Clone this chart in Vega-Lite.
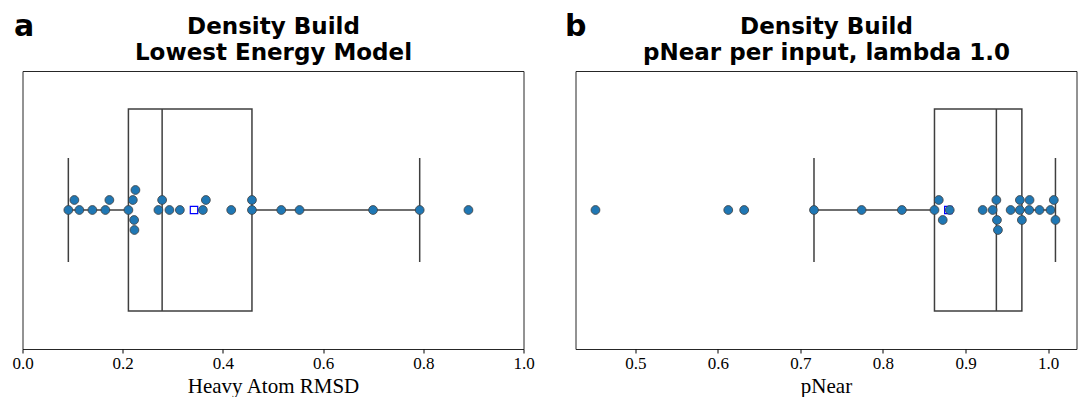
{
  "$schema": "https://vega.github.io/schema/vega-lite/v6.json",
  "background": "white",
  "padding": {"left": 10.5, "top": 11, "right": 0, "bottom": 0},
  "spacing": 28,
  "config": {
    "view": {"stroke": "#262626", "strokeWidth": 1},
    "axisX": {"domain": false, "grid": false, "tickColor": "#000", "tickSize": 4, "tickWidth": 1, "labelFont": "Liberation Serif", "labelFontSize": 17, "labelColor": "#000", "labelPadding": 2, "labelOverlap": false, "labelFlush": false, "titleFont": "Liberation Serif", "titleFontSize": 21, "titleFontWeight": "normal", "titleColor": "#000", "titlePadding": 4}
  },
  "datasets": {
    "rmsd": [
      {"rmsd": 0.0915}, {"rmsd": 0.1035}, {"rmsd": 0.1135}, {"rmsd": 0.1395}, {"rmsd": 0.1654},
      {"rmsd": 0.1734}, {"rmsd": 0.2114}, {"rmsd": 0.2202}, {"rmsd": 0.2228}, {"rmsd": 0.2234},
      {"rmsd": 0.2254}, {"rmsd": 0.2713}, {"rmsd": 0.2787}, {"rmsd": 0.2933}, {"rmsd": 0.3141},
      {"rmsd": 0.3600}, {"rmsd": 0.3660}, {"rmsd": 0.4166}, {"rmsd": 0.4580}, {"rmsd": 0.4580},
      {"rmsd": 0.5165}, {"rmsd": 0.5530}, {"rmsd": 0.6997}, {"rmsd": 0.7928}, {"rmsd": 0.8901}
    ],
    "pnear": [
      {"pnear": 0.4516}, {"pnear": 0.6125}, {"pnear": 0.6318}, {"pnear": 0.7164}, {"pnear": 0.7741},
      {"pnear": 0.8229}, {"pnear": 0.8624}, {"pnear": 0.8676}, {"pnear": 0.8724}, {"pnear": 0.8809},
      {"pnear": 0.9208}, {"pnear": 0.9329}, {"pnear": 0.9374}, {"pnear": 0.9381}, {"pnear": 0.9393},
      {"pnear": 0.9547}, {"pnear": 0.9659}, {"pnear": 0.9659}, {"pnear": 0.9683}, {"pnear": 0.9772},
      {"pnear": 0.9776}, {"pnear": 0.9897}, {"pnear": 1.003}, {"pnear": 1.007}, {"pnear": 1.009}
    ]
  },
  "hconcat": [
    {
      "width": 501,
      "height": 278,
      "data": {"name": "rmsd"},
      "resolve": {"axis": {"x": "independent"}},
      "layer": [
        {
          "mark": {"type": "boxplot", "extent": 1.5, "size": 202, "orient": "horizontal", "outliers": false,
            "ticks": {"size": 104, "color": "#3f3f3f", "thickness": 1.5, "opacity": 1},
            "box": {"fill": "white", "stroke": "#3f3f3f", "strokeWidth": 1.5},
            "median": {"color": "#3f3f3f", "thickness": 1.5, "opacity": 1},
            "rule": {"color": "#3f3f3f", "strokeWidth": 1.5, "opacity": 1}},
          "encoding": {"x": {"field": "rmsd", "type": "quantitative", "title": "Heavy Atom RMSD",
            "scale": {"domain": [0, 1], "nice": false, "zero": false},
            "axis": {"orient": "bottom", "values": [0, 0.2, 0.4, 0.6, 0.8, 1.0], "format": ".1f"}}}
        },
        {
          "mark": {"type": "square", "size": 55, "fill": "white", "stroke": "#0000ff", "strokeWidth": 1.2, "opacity": 1},
          "encoding": {"x": {"aggregate": "mean", "field": "rmsd", "type": "quantitative",
            "axis": {"orient": "top", "title": ["Density Build", "Lowest Energy Model"], "labels": false, "ticks": false, "domain": false, "grid": false,
              "titleFont": "DejaVu Sans", "titleFontSize": 23, "titleFontWeight": "bold", "titleLineHeight": 26, "titlePadding": 7, "titleColor": "#000"}}}
        },
        {
          "transform": [
            {"bin": {"step": 0.024, "extent": [0.016, 1.0], "nice": false, "anchor": 0.016}, "field": "rmsd", "as": "grp"},
            {"window": [{"op": "row_number", "as": "lane"}], "groupby": ["grp"], "sort": [{"field": "rmsd", "order": "ascending"}]}
          ],
          "mark": {"type": "circle", "size": 78, "fill": "#1f77b4", "stroke": "#3d3d3d", "strokeWidth": 0.8, "opacity": 1},
          "encoding": {
            "x": {"field": "rmsd", "type": "quantitative", "axis": null},
            "y": {"field": "lane", "type": "ordinal", "scale": {"type": "point", "domain": [5, 2, 1, 3, 4], "range": [119, 159], "padding": 0},
              "axis": {"title": "a", "orient": "left", "labels": false, "ticks": false, "domain": false, "grid": false, "titleAngle": 0, "titleX": -9, "titleY": -35.5, "titleAlign": "left", "titleBaseline": "alphabetic", "titleFont": "DejaVu Sans", "titleFontSize": 30, "titleFontWeight": "bold", "titleColor": "#000"}}
          }
        }
      ]
    },
    {
      "width": 501,
      "height": 278,
      "data": {"name": "pnear"},
      "resolve": {"axis": {"x": "independent"}},
      "layer": [
        {
          "mark": {"type": "boxplot", "extent": 1.5, "size": 202, "orient": "horizontal", "outliers": false,
            "ticks": {"size": 104, "color": "#3f3f3f", "thickness": 1.5, "opacity": 1},
            "box": {"fill": "white", "stroke": "#3f3f3f", "strokeWidth": 1.5},
            "median": {"color": "#3f3f3f", "thickness": 1.5, "opacity": 1},
            "rule": {"color": "#3f3f3f", "strokeWidth": 1.5, "opacity": 1}},
          "encoding": {"x": {"field": "pnear", "type": "quantitative", "title": "pNear",
            "scale": {"domain": [0.4274, 1.0345], "nice": false, "zero": false},
            "axis": {"orient": "bottom", "values": [0.5, 0.6, 0.7, 0.8, 0.9, 1.0], "format": ".1f"}}}
        },
        {
          "mark": {"type": "square", "size": 55, "fill": "white", "stroke": "#0000ff", "strokeWidth": 1.2, "opacity": 1},
          "encoding": {"x": {"aggregate": "mean", "field": "pnear", "type": "quantitative",
            "axis": {"orient": "top", "title": ["Density Build", "pNear per input, lambda 1.0"], "labels": false, "ticks": false, "domain": false, "grid": false,
              "titleFont": "DejaVu Sans", "titleFontSize": 23, "titleFontWeight": "bold", "titleLineHeight": 26, "titlePadding": 7, "titleColor": "#000"}}}
        },
        {
          "transform": [
            {"filter": {"field": "pnear", "lt": 0.9}},
            {"bin": {"step": 0.015, "extent": [0.441, 0.9], "nice": false, "anchor": 0.441}, "field": "pnear", "as": "grp"},
            {"window": [{"op": "row_number", "as": "lane"}], "groupby": ["grp"], "sort": [{"field": "pnear", "order": "ascending"}]}
          ],
          "mark": {"type": "circle", "size": 78, "fill": "#1f77b4", "stroke": "#3d3d3d", "strokeWidth": 0.8, "opacity": 1},
          "encoding": {
            "x": {"field": "pnear", "type": "quantitative", "axis": null},
            "y": {"field": "lane", "type": "ordinal", "scale": {"type": "point", "domain": [5, 2, 1, 3, 4], "range": [119, 159], "padding": 0},
              "axis": {"title": "b", "orient": "left", "labels": false, "ticks": false, "domain": false, "grid": false, "titleAngle": 0, "titleX": -11, "titleY": -35.5, "titleAlign": "left", "titleBaseline": "alphabetic", "titleFont": "DejaVu Sans", "titleFontSize": 30, "titleFontWeight": "bold", "titleColor": "#000"}}
          }
        },
        {
          "transform": [
            {"filter": {"field": "pnear", "gte": 0.9}},
            {"bin": {"step": 0.013, "extent": [0.906, 1.023], "nice": false, "anchor": 0.906}, "field": "pnear", "as": "grp"},
            {"window": [{"op": "row_number", "as": "lane"}], "groupby": ["grp"], "sort": [{"field": "pnear", "order": "ascending"}]}
          ],
          "mark": {"type": "circle", "size": 78, "fill": "#1f77b4", "stroke": "#3d3d3d", "strokeWidth": 0.8, "opacity": 1},
          "encoding": {
            "x": {"field": "pnear", "type": "quantitative", "axis": null},
            "y": {"field": "lane", "type": "ordinal", "scale": {"type": "point", "domain": [5, 2, 1, 3, 4], "range": [119, 159], "padding": 0},
              "axis": {"title": "b", "orient": "left", "labels": false, "ticks": false, "domain": false, "grid": false, "titleAngle": 0, "titleX": -11, "titleY": -35.5, "titleAlign": "left", "titleBaseline": "alphabetic", "titleFont": "DejaVu Sans", "titleFontSize": 30, "titleFontWeight": "bold", "titleColor": "#000"}}
          }
        }
      ]
    }
  ]
}
